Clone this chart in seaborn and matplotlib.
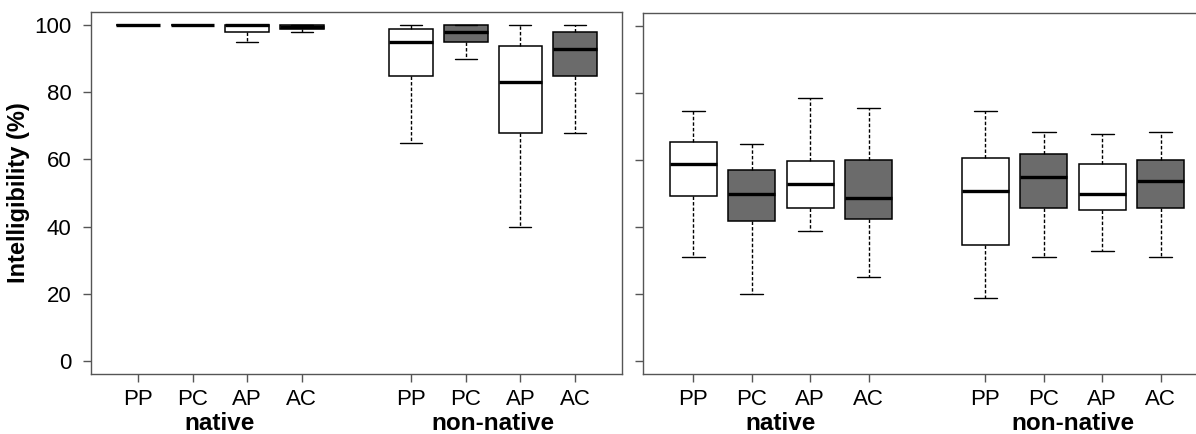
import matplotlib
matplotlib.use("Agg")
import matplotlib.pyplot as plt
import matplotlib.transforms as mtransforms
import seaborn as sns
import pandas as pd

# ---- data (five-number summaries: min, Q1, median, Q3, max) ----
conditions = ["PP", "PC", "AP", "AC"]
groups = ["native", "non-native"]

# left panel
left_native_PP = [100, 100, 100, 100, 100]
left_native_PC = [100, 100, 100, 100, 100]
left_native_AP = [95, 98, 100, 100, 100]
left_native_AC = [98, 99, 99.5, 100, 100]
left_nonnative_PP = [65, 85, 95, 99, 100]
left_nonnative_PC = [90, 95, 98, 100, 100]
left_nonnative_AP = [40, 68, 83, 94, 100]
left_nonnative_AC = [68, 85, 93, 98, 100]

# right panel
right_native_PP = [31, 49.3, 58.7, 65.3, 74.6]
right_native_PC = [20, 41.9, 49.8, 57.1, 64.7]
right_native_AP = [38.8, 45.8, 52.9, 59.7, 78.6]
right_native_AC = [24.9, 42.4, 48.8, 60, 75.6]
right_nonnative_PP = [18.8, 34.7, 50.8, 60.7, 74.6]
right_nonnative_PC = [30.9, 45.8, 54.8, 61.7, 68.5]
right_nonnative_AP = [32.8, 45.2, 49.8, 58.7, 67.7]
right_nonnative_AC = [30.9, 45.8, 53.8, 60, 68.5]

y_ticks = [0, 20, 40, 60, 80, 100]
y_label = "Intelligibility (%)"

panels = {
    "left": {
        ("native", "PP"): left_native_PP, ("native", "PC"): left_native_PC,
        ("native", "AP"): left_native_AP, ("native", "AC"): left_native_AC,
        ("non-native", "PP"): left_nonnative_PP, ("non-native", "PC"): left_nonnative_PC,
        ("non-native", "AP"): left_nonnative_AP, ("non-native", "AC"): left_nonnative_AC,
    },
    "right": {
        ("native", "PP"): right_native_PP, ("native", "PC"): right_native_PC,
        ("native", "AP"): right_native_AP, ("native", "AC"): right_native_AC,
        ("non-native", "PP"): right_nonnative_PP, ("non-native", "PC"): right_nonnative_PC,
        ("non-native", "AP"): right_nonnative_AP, ("non-native", "AC"): right_nonnative_AC,
    },
}

# ---- styling ----
sns.set_theme(style="white")
plt.rcParams["font.family"] = ["Liberation Sans", "DejaVu Sans"]
plt.rcParams["text.color"] = "black"
plt.rcParams["xtick.labelcolor"] = "black"
plt.rcParams["ytick.labelcolor"] = "black"
plt.rcParams["axes.labelcolor"] = "black"

GRAY = "#6b6b6b"
SPINE = "#555555"
palette = {"PP": "white", "PC": GRAY, "AP": "white", "AC": GRAY}

order = ["native|PP", "native|PC", "native|AP", "native|AC", "gap",
         "non-native|PP", "non-native|PC", "non-native|AP", "non-native|AC"]

fig = plt.figure(figsize=(11.96, 4.34), dpi=100)
ax_l = fig.add_axes([91 / 1196, 60 / 434, 531 / 1196, 362 / 434])
ax_r = fig.add_axes([643 / 1196, 60 / 434, 568 / 1196, 361 / 434])

for name, ax in (("left", ax_l), ("right", ax_r)):
    rows = []
    for (g, c), vals in panels[name].items():
        for v in vals:
            rows.append({"key": f"{g}|{c}", "condition": c, "value": v})
    df = pd.DataFrame(rows)
    sns.boxplot(
        data=df, x="key", y="value", hue="condition", order=order,
        palette=palette, dodge=False, legend=False, width=0.8,
        whis=(0, 100), fliersize=0, linecolor="black", linewidth=1.1,
        medianprops=dict(linewidth=2.4, color="black"),
        whiskerprops=dict(linestyle=(0, (2.5, 1.5)), linewidth=1.0, color="black"),
        capprops=dict(linewidth=1.0, color="black"),
        boxprops=dict(edgecolor="black"),
        ax=ax,
    )
    ax.set_xlim(-0.86, 8.86)
    ax.set_ylim(-4, 104)
    ax.set_yticks(y_ticks)
    ax.set_xticks([0, 1, 2, 3, 5, 6, 7, 8])
    ax.set_xticklabels(conditions + conditions, fontsize=16)
    ax.set_xlabel("")
    ax.set_ylabel("")
    for sp in ax.spines.values():
        sp.set_visible(True)
        sp.set_color(SPINE)
        sp.set_linewidth(1.0)
    ax.tick_params(axis="both", which="both", direction="out", length=6,
                   width=1.0, color=SPINE, bottom=True, left=True)
    ax.tick_params(axis="x", pad=5)
    ax.tick_params(axis="y", pad=8, labelsize=16)
    trans = mtransforms.blended_transform_factory(ax.transData, fig.transFigure)
    ax.text(1.5, 10 / 434, "native", transform=trans, ha="center", va="center",
            fontsize=17.5, fontweight="bold")
    ax.text(6.5, 10 / 434, "non-native", transform=trans, ha="center", va="center",
            fontsize=17.5, fontweight="bold")

ax_l.set_ylabel(y_label, fontsize=17, fontweight="bold", labelpad=3)
ax_r.set_yticklabels([])

fig.savefig("out.png", dpi=100)
